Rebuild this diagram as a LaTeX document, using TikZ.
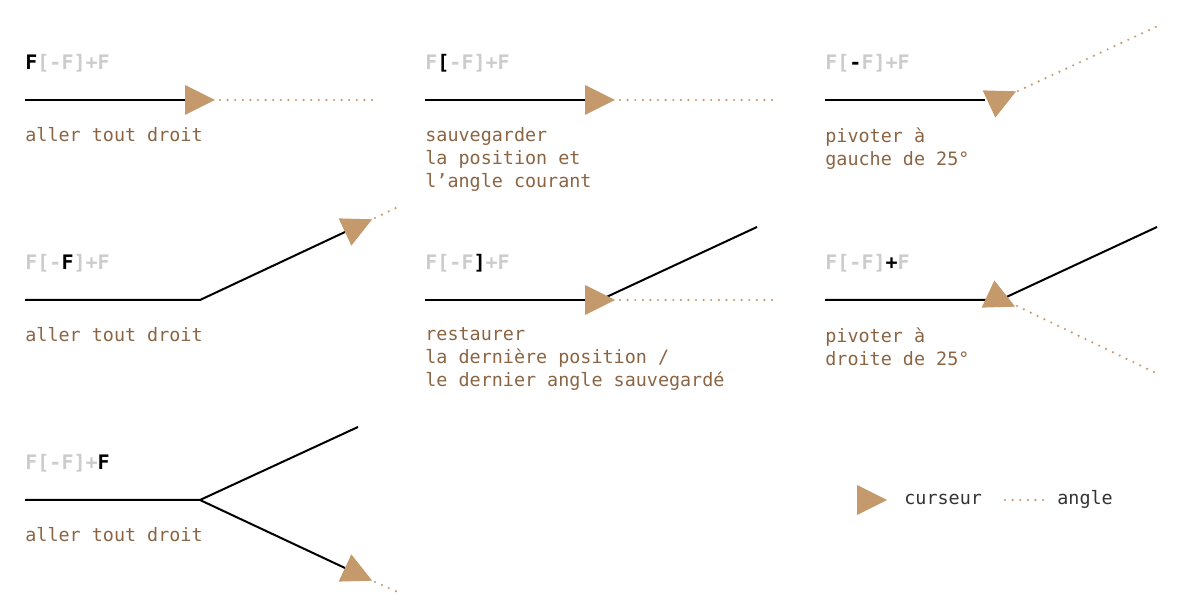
\documentclass[tikz,border=0pt]{standalone}
\usepackage{fontspec}
\setmonofont{DejaVu Sans Mono}
\definecolor{brn}{HTML}{8B6543}
\definecolor{tri}{HTML}{C49A6C}
\definecolor{lg}{HTML}{CCCCCC}
\definecolor{dk}{HTML}{333333}
\tikzset{
 ln/.style={line width=1pt,black},
 dot/.style={line width=1.2pt,tri,line cap=round,dash pattern=on 0pt off 3.8pt},
 cur/.style={fill=tri},
 lbl/.style={anchor=north west,inner sep=0pt,font=\ttfamily\fontsize{9.2}{11.5}\selectfont,text=brn,align=left},
 code/.style={anchor=west,inner sep=0pt,font=\ttfamily\bfseries\fontsize{10}{12}\selectfont,text=lg},
 leg/.style={anchor=west,inner sep=0pt,font=\ttfamily\fontsize{9.2}{11}\selectfont,text=dk}
}
\begin{document}
\begin{tikzpicture}[x=0.5pt,y=0.5pt]
\def\curs#1#2{\fill[cur,shift={#1},rotate=#2] (0,-15)--(30,0)--(0,15)--cycle;}
\def\kk#1{\textcolor{black}{#1}}
\useasboundingbox (0,0) rectangle (1200,600);
% panel 1
\node[code] (c1) at (25,537) {\kk{F}[-F]+F};
\coordinate (a1) at (25,500); \coordinate (b1) at (185,500);
\coordinate (d1) at (220,500); \coordinate (e1) at (375,500);
\draw[ln] (a1)--(b1); \curs{(185,500)}{0} \draw[dot] (d1)--(e1);
\node[lbl] (l1) at (25,473) {aller tout droit};
% panel 2
\node[code] (c2) at (425,537) {F\kk{[}-F]+F};
\coordinate (a2) at (425,500); \coordinate (b2) at (585,500);
\coordinate (d2) at (620,500); \coordinate (e2) at (775,500);
\draw[ln] (a2)--(b2); \curs{(585,500)}{0} \draw[dot] (d2)--(e2);
\node[lbl] (l2) at (425,473) {sauvegarder\\la position et\\l’angle courant};
% panel 3
\node[code] (c3) at (825,537) {F[\kk{-}F]+F};
\coordinate (a3) at (825,500); \coordinate (b3) at (985,500);
\coordinate (d3) at (1018,509); \coordinate (e3) at (1160,575);
\draw[ln] (a3)--(b3); \curs{(989,496)}{25} \draw[dot] (d3)--(e3);
\node[lbl] (l3) at (825,473) {pivoter à\\gauche de 25°};
% panel 4
\node[code] (c4) at (25,337) {F[-\kk{F}]+F};
\coordinate (a4) at (25,300); \coordinate (b4) at (200,300); \coordinate (f4) at (345,368);
\coordinate (d4) at (375,382); \coordinate (e4) at (400,394);
\draw[ln] (a4)--(b4)--(f4); \curs{(345,368)}{25} \draw[dot] (d4)--(e4);
\node[lbl] (l4) at (25,273) {aller tout droit};
% panel 5
\node[code] (c5) at (425,337) {F[-F\kk{]}+F};
\coordinate (a5) at (425,300); \coordinate (b5) at (585,300); \coordinate (g5) at (600,300); \coordinate (f5) at (757,373);
\coordinate (d5) at (620,300); \coordinate (e5) at (775,300);
\draw[ln] (a5)--(b5); \draw[ln] (g5)--(f5); \curs{(585,300)}{0} \draw[dot] (d5)--(e5);
\node[lbl] (l5) at (425,273) {restaurer\\la dernière position /\\le dernier angle sauvegardé};
% panel 6
\node[code] (c6) at (825,337) {F[-F]\kk{+}F};
\coordinate (a6) at (825,300); \coordinate (b6) at (1000,300); \coordinate (f6) at (1157,373);
\coordinate (d6) at (1017,294); \coordinate (e6) at (1160,225);
\draw[ln] (a6)--(b6)--(f6); \curs{(988,306)}{-25} \draw[dot] (d6)--(e6);
\node[lbl] (l6) at (825,273) {pivoter à\\droite de 25°};
% panel 7
\node[code] (c7) at (25,137) {F[-F]+\kk{F}};
\coordinate (a7) at (25,100); \coordinate (b7) at (200,100); \coordinate (f7) at (358,173);
\coordinate (g7) at (345,32); \coordinate (d7) at (375,18); \coordinate (e7) at (400,7);
\draw[ln] (a7)--(b7)--(f7); \draw[ln] (b7)--(g7); \curs{(345,32)}{-25} \draw[dot] (d7)--(e7);
\node[lbl] (l7) at (25,73) {aller tout droit};
% legend
\curs{(857,100)}{0}
\node[leg] (t1) at (904,101) {curseur};
\coordinate (p1) at (1005,100); \coordinate (p2) at (1045,100);
\draw[dot] (p1)--(p2);
\node[leg] (t2) at (1057,101) {angle};
\end{tikzpicture}
\end{document}
